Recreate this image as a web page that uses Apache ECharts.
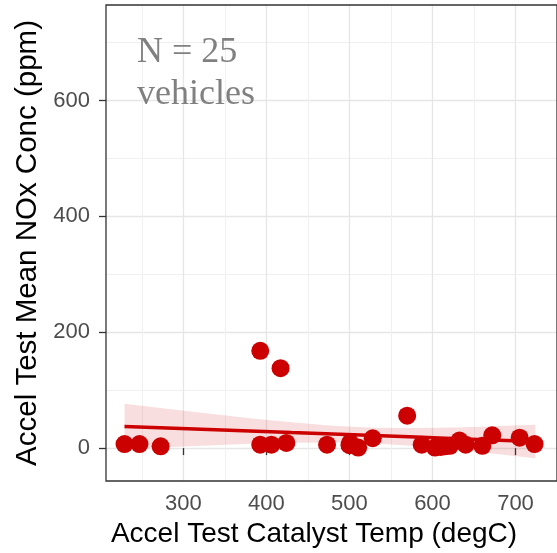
<!DOCTYPE html>
<html>
<head>
<meta charset="utf-8">
<script src="https://cdn.jsdelivr.net/npm/echarts@6/dist/echarts.min.js"></script>
<style>html,body{margin:0;padding:0;background:#fff}#c{width:557px;height:553px}</style>
</head>
<body>
<div id="c"></div>
<script>
// Scatter points: catalyst temp (degC) and mean NOx (ppm)
var tempX = [229, 247, 272.5, 392.5, 392.5, 406, 417, 424, 473, 500.7, 510.5, 528, 569.5, 587, 603, 615, 621, 632.5, 640, 660, 672, 705, 723, 610, 500];
var noxY  = [7, 7, 3, 6, 168, 6, 138, 9, 6, 9, 1, 17, 56, 6, 1, 3, 4, 13, 6, 4, 22, 18, 7, 2, 5];
// Linear fit and confidence band
var fitX   = [229, 280, 330, 380, 430, 480, 530, 580, 630, 680, 724];
var fitY   = [37.4, 34.7, 32.1, 29.5, 26.8, 24.2, 21.6, 19.0, 16.3, 13.7, 11.4];
var bandHi = [76.4, 67.8, 59.6, 51.7, 44.5, 38.7, 35.2, 34.5, 35.7, 38.0, 40.4];
var bandLo = [-1.6, 1.6, 4.6, 7.3, 9.1, 9.7, 8.0, 3.5, -3.1, -10.6, -17.6];
// Ticks
var xMajor = [300, 400, 500, 600, 700];
var xMinor = [250, 350, 450, 550, 650];
var yMajor = [0, 200, 400, 600];
var yMinor = [100, 300, 500, 700];

var X_MIN = 206.7, X_MAX = 750, Y_MIN = -56.8, Y_MAX = 765;

var chart = echarts.init(document.getElementById('c'), null, {renderer: 'canvas'});
var pts = tempX.map(function (x, i) { return [x, noxY[i]]; });
var fit = fitX.map(function (x, i) { return [x, fitY[i]]; });

var sans = 'Liberation Sans';
var option = {
  animation: false,
  backgroundColor: '#ffffff',
  title: {
    text: 'N = 25\nvehicles',
    left: 132, top: 27,
    textStyle: {fontFamily: 'Liberation Serif', fontSize: 36, fontWeight: 'normal', color: '#808080', lineHeight: 42}
  },
  grid: {left: 106, right: -9, top: 5, bottom: 71, show: true, borderColor: '#333333', borderWidth: 1.3, backgroundColor: 'transparent', z: 10},
  xAxis: [{
    type: 'value', min: X_MIN, max: X_MAX,
    name: 'Accel Test Catalyst Temp (degC)', nameLocation: 'middle', nameGap: 39,
    nameTextStyle: {fontFamily: sans, fontSize: 28, color: '#000', padding: [0, 35, 0, 0]},
    axisLine: {show: false},
    axisTick: {show: true, length: 7, lineStyle: {color: '#333', width: 1.3}, customValues: xMajor},
    axisLabel: {fontFamily: sans, fontSize: 22, color: '#4d4d4d', margin: 12, customValues: xMajor},
    splitLine: {show: true, lineStyle: {color: '#e6e6e6', width: 1.3}}
  }, {
    type: 'value', min: X_MIN, max: X_MAX, position: 'bottom',
    axisLine: {show: false},
    axisTick: {show: false, customValues: xMinor},
    axisLabel: {show: false, customValues: xMinor},
    splitLine: {show: true, lineStyle: {color: '#f0f0f0', width: 1}}
  }],
  yAxis: [{
    type: 'value', min: Y_MIN, max: Y_MAX,
    name: 'Accel Test Mean NOx Conc (ppm)', nameLocation: 'middle', nameGap: 59,
    nameTextStyle: {fontFamily: sans, fontSize: 29.5, color: '#000'},
    axisLine: {show: false},
    axisTick: {show: true, length: 7, lineStyle: {color: '#333', width: 1.3}, customValues: yMajor},
    axisLabel: {fontFamily: sans, fontSize: 22, color: '#4d4d4d', margin: 16, customValues: yMajor},
    splitLine: {show: true, lineStyle: {color: '#e6e6e6', width: 1.3}}
  }, {
    type: 'value', min: Y_MIN, max: Y_MAX, position: 'left',
    axisLine: {show: false},
    axisTick: {show: false, customValues: yMinor},
    axisLabel: {show: false, customValues: yMinor},
    splitLine: {show: true, lineStyle: {color: '#f0f0f0', width: 1}}
  }],
  series: [{
    type: 'scatter', data: pts, symbolSize: 18, z: 2,
    itemStyle: {color: '#cc0000', opacity: 1}
  }, {
    type: 'custom', z: 3, silent: true,
    data: [0],
    renderItem: function (params, api) {
      var poly = [];
      for (var i = 0; i < fitX.length; i++) poly.push(api.coord([fitX[i], bandHi[i]]));
      for (var j = fitX.length - 1; j >= 0; j--) poly.push(api.coord([fitX[j], bandLo[j]]));
      return {type: 'polygon', shape: {points: poly}, style: {fill: 'rgba(204,0,0,0.13)'}};
    }
  }, {
    type: 'line', data: fit, symbol: 'none', z: 4,
    lineStyle: {color: '#cc0000', width: 3.5}
  }]
};
chart.setOption(option);
</script>
</body>
</html>
